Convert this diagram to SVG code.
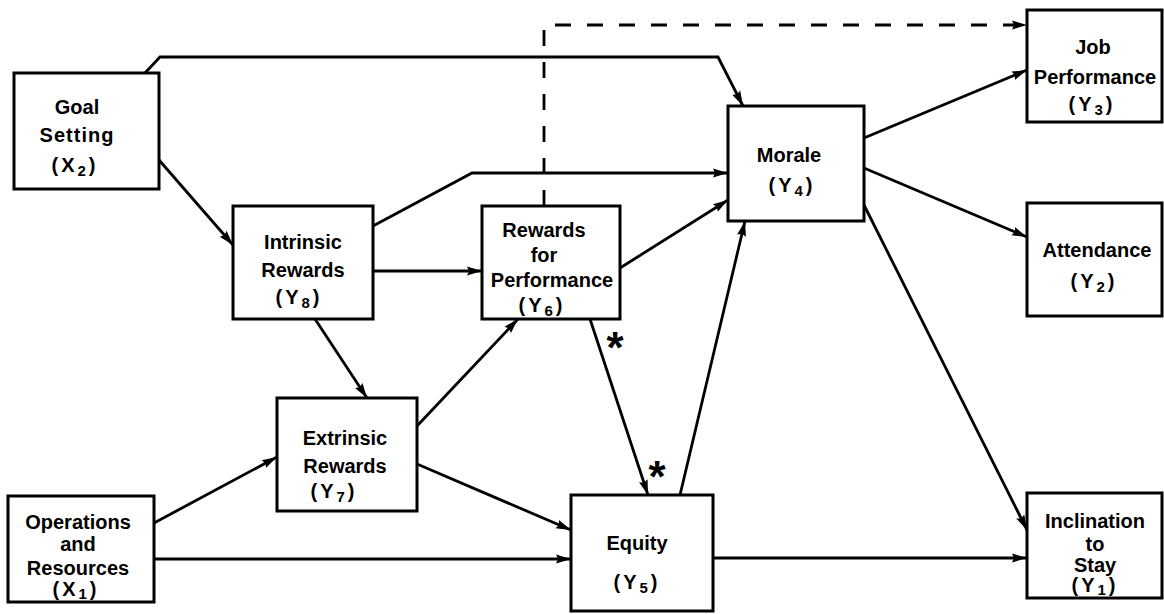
<svg xmlns="http://www.w3.org/2000/svg" width="1164" height="614" viewBox="0 0 1164 614">
<style>
.box{fill:#fff;stroke:#000;stroke-width:3}
.t{font-family:"Liberation Sans",Arial,sans-serif;font-weight:bold;font-size:20px;text-anchor:middle;fill:#000}
.p{letter-spacing:3px}
.c{fill:none;stroke:#000;stroke-width:2.8;marker-end:url(#ah)}
.d{fill:none;stroke:#000;stroke-width:2.8;stroke-dasharray:16 16;marker-end:url(#ah)}
.s{font-size:15px}
.ast{font-family:"Liberation Sans",Arial,sans-serif;font-weight:bold;font-size:44px;text-anchor:middle;fill:#000}
</style>
<defs>
<marker id="ah" markerUnits="userSpaceOnUse" markerWidth="18" markerHeight="12" refX="15" refY="6" orient="auto">
<path d="M0,1.5 L15,6 L0,10.5 L2,6 z" fill="#000"/>
</marker>
</defs>
<rect width="1164" height="614" fill="#fff"/>
<g id="connectors">
<polyline class="c" points="145,73 160,57 718,57 743,106"/>
<polyline class="d" points="544,206 544,25 1027,25"/>
<polyline class="c" points="373,226 472,173 728,173"/>
<line class="c" x1="373" y1="271" x2="482" y2="271"/>
<line class="c" x1="159" y1="160" x2="233" y2="245"/>
<line class="c" x1="315" y1="319" x2="367" y2="398"/>
<line class="c" x1="154" y1="523" x2="277" y2="457"/>
<line class="c" x1="154" y1="559" x2="571" y2="559"/>
<line class="c" x1="417" y1="426" x2="518" y2="319"/>
<line class="c" x1="417" y1="464" x2="571" y2="530"/>
<line class="c" x1="620" y1="268" x2="728" y2="200"/>
<line class="c" x1="590" y1="319" x2="648" y2="495"/>
<line class="c" x1="680" y1="495" x2="745" y2="221"/>
<line class="c" x1="864" y1="138" x2="1027" y2="70"/>
<line class="c" x1="864" y1="168" x2="1027" y2="237"/>
<line class="c" x1="864" y1="205" x2="1027" y2="530"/>
<line class="c" x1="713" y1="558" x2="1027" y2="558"/>
<text class="ast" x="615" y="363">*</text>
<text class="ast" x="657" y="492">*</text>
</g>
<g id="goal">
<rect class="box" x="14" y="73" width="145" height="116"/>
<text class="t" x="77" y="114">Goal</text>
<text class="t" x="77" y="142" letter-spacing="1">Setting</text>
<text class="t p" x="75" y="172">(X<tspan class="s" dy="4">2</tspan><tspan dy="-4">)</tspan></text>
</g>
<g id="intrinsic">
<rect class="box" x="233" y="206" width="140" height="113"/>
<text class="t" x="303" y="249">Intrinsic</text>
<text class="t" x="303" y="277">Rewards</text>
<text class="t p" x="299" y="304">(Y<tspan class="s" dy="4">8</tspan><tspan dy="-4">)</tspan></text>
</g>
<g id="rfp">
<rect class="box" x="482" y="206" width="138" height="113"/>
<text class="t" x="544" y="237">Rewards</text>
<text class="t" x="544" y="262">for</text>
<text class="t" x="552" y="287">Performance</text>
<text class="t p" x="542" y="312">(Y<tspan class="s" dy="4">6</tspan><tspan dy="-4">)</tspan></text>
</g>
<g id="morale">
<rect class="box" x="728" y="106" width="136" height="115"/>
<text class="t" x="789" y="162">Morale</text>
<text class="t p" x="792" y="192">(Y<tspan class="s" dy="4">4</tspan><tspan dy="-4">)</tspan></text>
</g>
<g id="job">
<rect class="box" x="1027" y="10" width="135" height="112"/>
<text class="t" x="1093" y="54">Job</text>
<text class="t" x="1095" y="84">Performance</text>
<text class="t p" x="1092" y="111">(Y<tspan class="s" dy="4">3</tspan><tspan dy="-4">)</tspan></text>
</g>
<g id="attendance">
<rect class="box" x="1027" y="203" width="135" height="113"/>
<text class="t" x="1097" y="257">Attendance</text>
<text class="t p" x="1094" y="288">(Y<tspan class="s" dy="4">2</tspan><tspan dy="-4">)</tspan></text>
</g>
<g id="extrinsic">
<rect class="box" x="277" y="398" width="140" height="113"/>
<text class="t" x="345" y="445">Extrinsic</text>
<text class="t" x="345" y="473">Rewards</text>
<text class="t p" x="334" y="498">(Y<tspan class="s" dy="4">7</tspan><tspan dy="-4">)</tspan></text>
</g>
<g id="operations">
<rect class="box" x="8" y="496" width="146" height="106"/>
<text class="t" x="78" y="529">Operations</text>
<text class="t" x="78" y="551">and</text>
<text class="t" x="78" y="575">Resources</text>
<text class="t p" x="76" y="596">(X<tspan class="s" dy="3">1</tspan><tspan dy="-3">)</tspan></text>
</g>
<g id="equity">
<rect class="box" x="571" y="495" width="142" height="116"/>
<text class="t" x="637" y="550">Equity</text>
<text class="t p" x="637" y="589">(Y<tspan class="s" dy="4">5</tspan><tspan dy="-4">)</tspan></text>
</g>
<g id="inclination">
<rect class="box" x="1027" y="493" width="135" height="105"/>
<text class="t" x="1095" y="528">Inclination</text>
<text class="t" x="1095" y="551">to</text>
<text class="t" x="1095" y="572">Stay</text>
<text class="t p" x="1095" y="592">(Y<tspan class="s" dy="3">1</tspan><tspan dy="-3">)</tspan></text>
</g>
</svg>
